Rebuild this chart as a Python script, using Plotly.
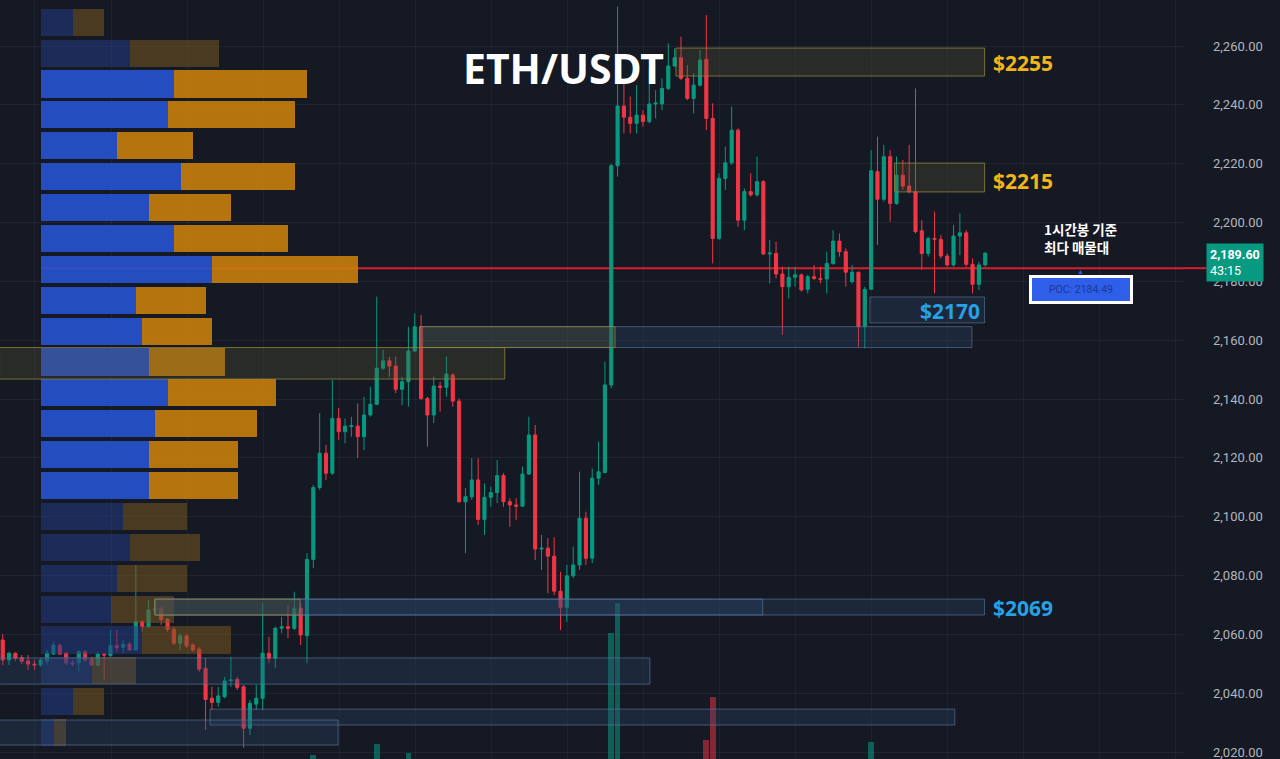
import plotly.graph_objects as go

# ETH/USDT 1h 캔들 (OHLC)
opens = [2058.1, 2051.3, 2053.6, 2052.1, 2051.0, 2049.9, 2049.6, 2050.9, 2053.3, 2056.2,
         2053.7, 2050.3, 2050.3, 2054.1, 2051.6, 2049.6, 2053.3, 2052.8, 2056.2, 2055.6,
         2056.7, 2054.7, 2064.3, 2062.6, 2068.3, 2068.9, 2065.2, 2061.8, 2057.0, 2059.5,
         2056.4, 2055.0, 2048.5, 2038.3, 2036.9, 2038.8, 2044.3, 2044.7, 2042.2, 2028.1,
         2036.3, 2038.3, 2053.6, 2051.9, 2062.1, 2062.6, 2062.1, 2068.9, 2059.6, 2085.5,
         2109.9, 2121.6, 2114.8, 2133.4, 2128.9, 2130.7, 2130.8, 2127.2, 2134.6, 2138.2,
         2150.5, 2153.0, 2151.2, 2143.3, 2145.9, 2156.3, 2164.6, 2140.2, 2134.6, 2144.4,
         2144.0, 2148.2, 2139.3, 2105.1, 2106.8, 2112.5, 2099.1, 2106.6, 2108.2, 2114.0,
         2105.1, 2104.0, 2103.6, 2114.5, 2127.8, 2089.0, 2089.3, 2086.6, 2074.7, 2069.2,
         2079.9, 2083.6, 2099.5, 2085.9, 2113.1, 2115.0, 2144.8, 2219.3, 2239.6, 2235.8,
         2233.7, 2236.5, 2234.3, 2240.3, 2240.3, 2245.6, 2253.2, 2256.0, 2249.0, 2242.2,
         2246.7, 2255.5, 2235.4, 2194.6, 2215.0, 2220.3, 2231.4, 2200.8, 2210.5, 2209.4,
         2213.9, 2189.3, 2189.5, 2182.5, 2178.2, 2181.4, 2182.2, 2177.3, 2181.6, 2181.0,
         2180.8, 2186.1, 2193.7, 2190.1, 2179.9, 2183.1, 2164.6, 2177.3, 2217.3, 2207.9,
         2222.4, 2206.5, 2216.1, 2212.4, 2210.5, 2197.2, 2189.5, 2194.6, 2194.3, 2188.6,
         2185.6, 2195.4, 2196.5, 2185.8, 2179.0, 2185.6]
highs = [2060.1, 2054.1, 2053.9, 2053.0, 2053.0, 2051.3, 2051.9, 2054.7, 2057.5, 2057.0,
         2054.1, 2051.3, 2054.7, 2054.7, 2052.4, 2054.1, 2053.7, 2061.5, 2061.5, 2058.1,
         2057.4, 2083.6, 2064.9, 2071.7, 2071.7, 2069.4, 2065.5, 2062.5, 2060.4, 2060.1,
         2057.0, 2055.8, 2052.0, 2042.2, 2042.2, 2045.6, 2052.4, 2045.6, 2042.8, 2037.7,
         2042.8, 2070.7, 2059.2, 2062.6, 2066.0, 2070.0, 2074.5, 2070.6, 2087.6, 2110.8,
         2135.2, 2124.4, 2146.5, 2136.9, 2133.4, 2134.0, 2138.5, 2140.8, 2144.2, 2174.8,
         2156.7, 2154.4, 2154.4, 2147.6, 2164.6, 2169.1, 2168.6, 2140.8, 2147.6, 2145.9,
         2154.4, 2148.8, 2140.2, 2109.7, 2119.9, 2119.9, 2111.3, 2110.2, 2119.3, 2114.8,
         2106.3, 2106.3, 2117.0, 2134.0, 2131.2, 2093.8, 2092.7, 2093.0, 2081.3, 2083.6,
         2089.8, 2115.3, 2101.7, 2116.4, 2125.5, 2152.7, 2220.0, 2273.4, 2248.4, 2242.8,
         2246.7, 2238.2, 2252.4, 2245.0, 2249.0, 2260.9, 2259.2, 2263.2, 2253.5, 2250.7,
         2258.6, 2270.5, 2240.5, 2216.7, 2225.8, 2239.4, 2232.0, 2211.6, 2216.7, 2222.4,
         2214.4, 2194.1, 2193.5, 2185.0, 2185.0, 2185.0, 2182.7, 2182.2, 2185.6, 2185.0,
         2190.1, 2197.4, 2196.3, 2191.2, 2185.6, 2183.3, 2178.2, 2224.6, 2229.2, 2226.4,
         2224.6, 2222.4, 2221.3, 2226.4, 2245.6, 2200.8, 2195.2, 2203.7, 2195.8, 2189.5,
         2199.2, 2203.1, 2197.4, 2187.8, 2186.7, 2189.9]
lows = [2049.6, 2049.6, 2051.0, 2049.9, 2047.9, 2047.9, 2049.0, 2049.6, 2053.0, 2053.0,
        2049.6, 2049.2, 2047.3, 2050.7, 2049.2, 2049.2, 2044.5, 2052.4, 2054.1, 2053.6,
        2054.4, 2054.4, 2060.9, 2062.4, 2066.6, 2063.2, 2060.9, 2056.4, 2054.7, 2055.4,
        2054.1, 2047.3, 2027.5, 2034.3, 2035.4, 2038.3, 2042.2, 2041.1, 2021.4, 2025.8,
        2034.3, 2034.3, 2050.2, 2048.5, 2060.4, 2058.7, 2061.5, 2056.4, 2050.2, 2082.5,
        2109.1, 2112.5, 2114.2, 2126.1, 2125.0, 2127.2, 2119.9, 2122.6, 2134.0, 2137.9,
        2149.9, 2147.6, 2142.0, 2137.9, 2137.4, 2156.1, 2139.6, 2123.8, 2131.8, 2135.7,
        2140.8, 2137.4, 2104.8, 2087.6, 2105.7, 2097.2, 2093.8, 2103.4, 2104.6, 2103.4,
        2096.6, 2098.9, 2103.4, 2114.2, 2085.3, 2081.9, 2074.0, 2073.4, 2061.5, 2064.3,
        2079.1, 2081.9, 2083.6, 2084.2, 2110.8, 2114.8, 2143.7, 2215.6, 2230.3, 2230.3,
        2230.3, 2232.6, 2233.7, 2235.4, 2238.2, 2245.0, 2253.0, 2248.4, 2241.6, 2237.1,
        2246.2, 2231.4, 2186.1, 2194.1, 2211.1, 2219.6, 2198.6, 2197.4, 2208.8, 2208.8,
        2189.0, 2179.3, 2181.0, 2161.8, 2174.2, 2178.2, 2176.5, 2175.9, 2180.5, 2179.3,
        2175.9, 2185.6, 2188.4, 2178.2, 2179.3, 2157.8, 2157.2, 2177.1, 2192.4, 2207.1,
        2200.3, 2206.0, 2211.1, 2209.9, 2196.3, 2183.9, 2188.4, 2175.9, 2187.8, 2185.0,
        2185.0, 2188.9, 2185.0, 2175.9, 2177.1, 2185.0]
closes = [2051.3, 2053.6, 2051.9, 2050.9, 2049.9, 2049.6, 2051.3, 2053.7, 2056.4, 2053.3,
          2050.3, 2050.0, 2054.1, 2051.3, 2049.6, 2053.3, 2053.0, 2056.2, 2055.5, 2056.6,
          2054.7, 2064.3, 2062.6, 2068.3, 2068.6, 2065.1, 2061.7, 2057.0, 2059.5, 2056.1,
          2054.7, 2048.2, 2037.9, 2036.9, 2039.1, 2044.2, 2044.5, 2042.0, 2028.1, 2036.6,
          2038.3, 2053.6, 2051.9, 2062.1, 2062.6, 2062.1, 2068.9, 2059.8, 2085.5, 2109.9,
          2121.6, 2114.8, 2133.4, 2128.9, 2130.8, 2131.0, 2127.2, 2134.6, 2138.2, 2150.5,
          2153.0, 2151.2, 2143.3, 2145.9, 2156.3, 2164.6, 2140.2, 2134.6, 2144.4, 2144.0,
          2148.5, 2139.3, 2105.1, 2106.8, 2112.5, 2099.1, 2106.6, 2108.2, 2114.0, 2105.1,
          2104.0, 2103.6, 2114.5, 2127.8, 2089.0, 2089.3, 2086.6, 2074.7, 2069.2, 2079.9,
          2083.6, 2099.5, 2085.9, 2113.1, 2115.3, 2144.8, 2219.3, 2239.6, 2235.8, 2233.7,
          2236.5, 2234.3, 2240.3, 2240.6, 2245.6, 2253.2, 2256.0, 2249.0, 2242.2, 2246.7,
          2255.2, 2235.4, 2194.6, 2215.0, 2220.3, 2231.4, 2200.8, 2210.5, 2209.4, 2213.9,
          2189.3, 2189.6, 2182.5, 2178.2, 2181.4, 2182.2, 2177.1, 2181.6, 2181.0, 2180.7,
          2186.1, 2193.7, 2190.1, 2183.1, 2183.1, 2164.6, 2177.3, 2217.6, 2207.9, 2222.4,
          2206.5, 2216.1, 2212.4, 2210.5, 2196.9, 2189.5, 2194.6, 2194.3, 2188.6, 2185.6,
          2195.4, 2196.5, 2185.8, 2179.0, 2185.6, 2189.6]
bars = list(range(len(opens)))

# 거래량 (보이는 막대만)
vol_bar = [49, 59, 64, 96, 97, 111, 112, 137]
vol_val = [31.0, 33.8, 31.6, 61.5, 69.0, 34.8, 45.5, 34.3]
vol_up = [True, True, True, True, True, False, False, True]

# 매물대 (volume profile)
prof_price = [2268.1, 2257.6, 2247.1, 2236.6, 2226.1, 2215.6, 2205.1, 2194.6, 2184.1, 2173.6,
              2163.1, 2152.6, 2142.1, 2131.6, 2121.1, 2110.6, 2100.1, 2089.6, 2079.1, 2068.6,
              2058.1, 2047.6, 2037.1, 2026.6]
buy_vol = [5, 14, 21, 20, 12, 22, 17, 21, 27, 15, 16, 17, 20, 18, 17, 17, 13, 14, 12, 11, 16, 8, 5, 2]
sell_vol = [5, 14, 21, 20, 12, 18, 13, 18, 23, 11, 11, 12, 17, 16, 14, 14, 10, 11, 11, 10, 14, 7, 5, 2]
va_rows = range(2, 16)
poc = 2184.49
last_price = 2189.60

# 지지/저항 구간 (x0, x1 in bars, y0, y1, style)
zones = [
    (106.2, 154.9, 2249.8, 2259.3, "gold"),
    (140.7, 154.9, 2210.4, 2220.2, "gold"),
    (136.8, 154.9, 2165.9, 2174.7, "blue"),
    (65.8, 152.9, 2157.5, 2164.6, "blue"),
    (65.8, 96.6, 2157.5, 2164.6, "gold"),
    (-0.5, 79.2, 2146.8, 2157.5, "gold"),
    (24.0, 154.9, 2066.6, 2072.0, "blue"),
    (24.0, 119.9, 2066.6, 2072.0, "blue"),
    (24.0, 46.9, 2066.6, 2072.0, "gold"),
    (-0.5, 102.1, 2043.1, 2052.0, "blue"),
    (32.7, 150.2, 2029.2, 2034.6, "blue"),
    (-0.5, 52.9, 2022.4, 2030.9, "blue"),
]
level_labels = ["$2255", "$2215", "$2170", "$2069"]
level_y = [2254.2, 2214.1, 2169.9, 2068.9]
level_style = ["gold", "gold", "blue", "blue"]

BG = "#151924"
GREEN = "#089981"
RED = "#f23645"
GOLD = "#f2b418"
CYAN = "#28a0e4"

fig = go.Figure()

# volume profile
bright = [i in va_rows for i in range(len(prof_price))]
fig.add_trace(go.Bar(
    y=prof_price, x=buy_vol, base=0, orientation="h", width=9.2,
    marker=dict(color=["rgba(38,84,210,0.9)" if b else "rgba(34,58,130,0.55)" for b in bright],
                line_width=0),
    xaxis="x2", yaxis="y", showlegend=False, hoverinfo="skip"))
fig.add_trace(go.Bar(
    y=prof_price, x=sell_vol, base=buy_vol, orientation="h", width=9.2,
    marker=dict(color=["rgba(200,126,12,0.9)" if b else "rgba(120,86,32,0.55)" for b in bright],
                line_width=0),
    xaxis="x2", yaxis="y", showlegend=False, hoverinfo="skip"))

# volume histogram
fig.add_trace(go.Bar(
    x=vol_bar, y=vol_val, width=0.9,
    marker=dict(color=["rgba(8,153,129,0.55)" if u else "rgba(242,54,69,0.5)" for u in vol_up],
                line_width=0),
    xaxis="x", yaxis="y3", showlegend=False, hoverinfo="skip"))

fig.add_trace(go.Candlestick(
    x=bars, open=opens, high=highs, low=lows, close=closes,
    increasing=dict(line=dict(color=GREEN, width=1), fillcolor=GREEN),
    decreasing=dict(line=dict(color=RED, width=1), fillcolor=RED),
    whiskerwidth=0, showlegend=False, xaxis="x", yaxis="y"))

for x0, x1, y0, y1, st in zones:
    if st == "gold":
        fill, edge = "rgba(95,90,55,0.28)", "rgba(150,135,60,0.75)"
    else:
        fill, edge = "rgba(45,75,115,0.28)", "rgba(95,125,165,0.6)"
    fig.add_shape(type="rect", xref="x", yref="y", x0=x0, x1=x1, y0=y0, y1=y1,
                  fillcolor=fill, line=dict(color=edge, width=1))

# POC line
fig.add_shape(type="line", xref="x2", yref="y", x0=0, x1=180.1, y0=poc, y1=poc,
              line=dict(color="#d81e2c", width=2), layer="below")
fig.add_shape(type="line", xref="paper", yref="y", x0=1.0, x1=1.02, y0=poc, y1=poc,
              line=dict(color="#d81e2c", width=2))

for txt, yv, st in zip(level_labels, level_y, level_style):
    if txt == "$2170":
        fig.add_annotation(x=154.5, y=yv, xref="x", yref="y", text=f"<b>{txt}</b>",
                           xanchor="right", showarrow=False,
                           font=dict(size=21, color=CYAN, family="Noto Sans"))
    else:
        fig.add_annotation(x=155.9, y=yv, xref="x", yref="y", text=f"<b>{txt}</b>",
                           xanchor="left", showarrow=False,
                           font=dict(size=21, color=GOLD if st == "gold" else CYAN,
                                     family="Noto Sans"))

# 제목
fig.add_annotation(x=0.476, y=2252.5, xref="paper", yref="y", text="<b>ETH/USDT</b>",
                   showarrow=False, font=dict(size=41, color="white", family="Noto Sans"))

# POC 설명
fig.add_annotation(x=170.1, y=poc, xref="x", yref="y",
                   text="<b>1시간봉 기준<br>최다 매물대</b>", align="left", showarrow=False,
                   yshift=30, font=dict(size=13.5, color="white", family="Noto Sans CJK KR"))
fig.add_annotation(x=170.1, y=poc, xref="x", yref="y", text="▲", showarrow=False,
                   yshift=-3, font=dict(size=7, color="#2f5bea"))
fig.add_annotation(x=170.1, y=poc, xref="x", yref="y", text="POC: 2184.49", showarrow=False,
                   yshift=-21.5, bgcolor="#2f5ee8", bordercolor="white", borderwidth=3,
                   borderpad=5, width=88,
                   font=dict(size=10.5, color="#1b3a94", family="Roboto"))

# 현재가
fig.add_annotation(x=1.0, y=last_price, xref="paper", yref="y",
                   text="<b>2,189.60</b><br>43:15", align="left", showarrow=False,
                   xanchor="left", xshift=23, yshift=-9, bgcolor=GREEN, borderpad=3,
                   font=dict(size=12.5, color="white", family="Roboto"))

fig.update_layout(
    width=1280, height=759,
    margin=dict(l=0, r=97, t=0, b=0),
    paper_bgcolor=BG, plot_bgcolor=BG,
    bargap=0, barmode="overlay",
    xaxis=dict(range=[-0.43, 186.2], showticklabels=False, showgrid=True,
               gridcolor="rgba(255,255,255,0.045)", tick0=5.09, dtick=12,
               zeroline=False, rangeslider=dict(visible=False), fixedrange=True),
    xaxis2=dict(range=[-6.47, 180.1], overlaying="x", visible=False, showgrid=False),
    yaxis=dict(range=[2017.65, 2275.64], side="right", tickvals=list(range(2020, 2261, 20)),
               tickformat=",.2f", showgrid=True, gridcolor="rgba(255,255,255,0.05)",
               zeroline=False, ticks="", ticklabelstandoff=29, ticklabeloverflow="allow",
               tickfont=dict(size=13, color="#b2b5be", family="Roboto")),
    yaxis3=dict(range=[30, 219.75], overlaying="y", visible=False),
    showlegend=False,
)

fig.write_html("out.html", config={"displayModeBar": False},
               post_script="document.body.style.margin='0';")
